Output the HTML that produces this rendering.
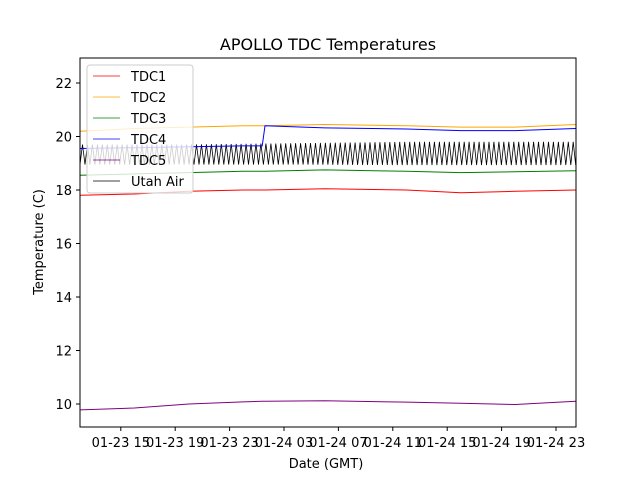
<!DOCTYPE html>
<html><head><meta charset="utf-8"><style>
body{margin:0;background:#fff;font-family:"Liberation Sans","DejaVu Sans",sans-serif}
svg text{font-family:"DejaVu Sans","Liberation Sans",sans-serif}
</style></head><body>
<svg id="c" width="640" height="480" viewBox="0 0 640 480">
<rect width="640" height="480" fill="#fff"/>
<text x="328" y="50" font-size="16" text-anchor="middle">APOLLO TDC Temperatures</text>
<g id="plot"></g>
<rect x="80" y="58" width="496" height="369" fill="none" stroke="#000" stroke-width="1"/>
<g id="axes"></g>
<text x="326" y="468" font-size="13" text-anchor="middle">Date (GMT)</text>
<text transform="translate(43,242) rotate(-90)" font-size="13" text-anchor="middle">Temperature (C)</text>
<g id="legend"></g>
</svg>
<script>
const hours=[12,16,20,24,25.4,25.6,30,36,40,44,48.45];
const tdc1=[17.8,17.85,17.95,18.0,18.0,18.0,18.05,18.0,17.9,17.95,18.0];
const tdc2=[20.2,20.3,20.35,20.4,20.4,20.4,20.45,20.4,20.35,20.35,20.45];
const tdc3=[18.55,18.6,18.65,18.7,18.7,18.7,18.75,18.7,18.65,18.68,18.72];
const tdc4=[19.55,19.58,19.62,19.65,19.65,20.4,20.32,20.28,20.22,20.22,20.3];
const tdc5=[9.78,9.85,10.0,10.08,10.1,10.1,10.12,10.07,10.03,9.98,10.1];
const airHours=[12,20,28,36,44,48.45];
const airHigh=[19.7,19.7,19.75,19.8,19.8,19.8];
const airLow=[18.95,18.95,18.95,18.93,18.93,18.93];
const airCycles=100;
const yTicks=[10,12,14,16,18,20,22];
const xTickHours=[15,19,23,27,31,35,39,43,47];
const xTickLabels=["01-23 15","01-23 19","01-23 23","01-24 03","01-24 07","01-24 11","01-24 15","01-24 19","01-24 23"];
const seriesNames=["TDC1","TDC2","TDC3","TDC4","TDC5","Utah Air"];
const seriesColors=["red","orange","green","blue","purple","black"];
const X=h=>80+(h-12)*13.6;
const Y=t=>83+(22-t)*26.75;
const NS="http://www.w3.org/2000/svg";
function mk(tag,attrs,parent){const e=document.createElementNS(NS,tag);for(const k in attrs)e.setAttribute(k,attrs[k]);parent.appendChild(e);return e;}
function interp(xs,ys,x){for(let i=1;i<xs.length;i++){if(x<=xs[i]){const f=(x-xs[i-1])/(xs[i]-xs[i-1]);return ys[i-1]+f*(ys[i]-ys[i-1]);}}return ys[ys.length-1];}
const plot=document.getElementById('plot');
// Utah air
let pts=[];const h0=airHours[0],h1=airHours[airHours.length-1];
for(let i=0;i<=airCycles*2;i++){const h=h0+(h1-h0)*i/(airCycles*2);const v=i%2?interp(airHours,airHigh,h):interp(airHours,airLow,h);pts.push(X(h).toFixed(1)+','+Y(v).toFixed(1));}
const la=mk('polyline',{points:pts.join(' '),fill:'none',stroke:'black','stroke-width':0.8},plot);


const sets=[tdc1,tdc2,tdc3,tdc4,tdc5];
sets.forEach((s,k)=>{const p=hours.map((h,i)=>X(h).toFixed(1)+','+Y(s[i]).toFixed(1)).join(' ');
const l=mk('polyline',{points:p,fill:'none',stroke:seriesColors[k],'stroke-width':1},plot);

});
const axes=document.getElementById('axes');
yTicks.forEach(t=>{mk('line',{x1:76,x2:80,y1:Y(t),y2:Y(t),stroke:'#000'},axes);
const tx=mk('text',{x:72,y:Y(t)+5,'font-size':13,'text-anchor':'end'},axes);tx.textContent=t;

});
xTickHours.forEach((h,i)=>{mk('line',{x1:X(h),x2:X(h),y1:427,y2:431,stroke:'#000'},axes);
const tx=mk('text',{x:X(h),y:447,'font-size':13,'text-anchor':'middle'},axes);tx.textContent=xTickLabels[i];

});
const lg=document.getElementById('legend');
const box=mk('rect',{x:87,y:65,width:106,height:128,rx:3,fill:'#fff','fill-opacity':0.8,stroke:'#ccc'},lg);


seriesNames.forEach((n,i)=>{const y=76+i*21;
mk('line',{x1:93,x2:120,y1:y,y2:y,stroke:seriesColors[i],'stroke-width':0.8},lg);
const t=mk('text',{x:131,y:y+5,'font-size':13},lg);t.textContent=n;

});
</script>
</body></html>
